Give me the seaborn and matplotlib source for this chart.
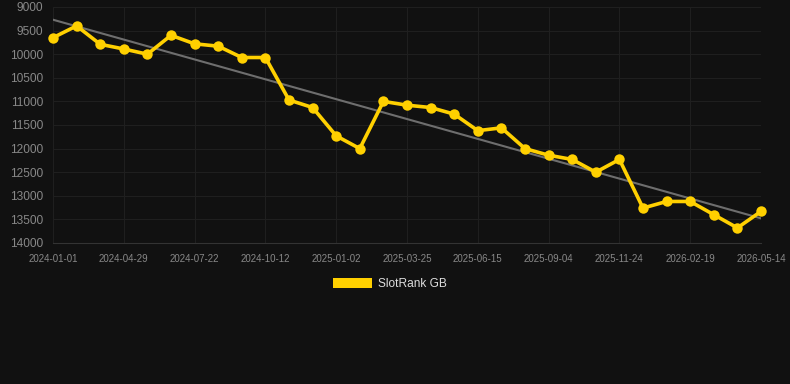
import numpy as np
import pandas as pd
import matplotlib
matplotlib.use("Agg")
import matplotlib.pyplot as plt
import seaborn as sns
from matplotlib.patches import Patch

# SlotRank GB rank values, one point per period (31 points)
ranks = [9650, 9400, 9790, 9890, 10000, 9600, 9780, 9830, 10070, 10070,
         10970, 11130, 11730, 12000, 11000, 11080, 11130, 11270, 11620, 11560,
         12000, 12140, 12230, 12500, 12230, 13260, 13120, 13120, 13400, 13680,
         13330]
tick_labels = ["2024-01-01", "2024-04-29", "2024-07-22", "2024-10-12", "2025-01-02",
               "2025-03-25", "2025-06-15", "2025-09-04", "2025-11-24", "2026-02-19",
               "2026-05-14"]
y_ticks = [9000, 9500, 10000, 10500, 11000, 11500, 12000, 12500, 13000, 13500, 14000]

df = pd.DataFrame({"idx": np.arange(len(ranks)), "rank": ranks})

bg = "#111111"
sns.set_style("dark")
plt.rcParams["font.family"] = ["Liberation Sans", "DejaVu Sans"]

fig = plt.figure(figsize=(7.9, 3.84), dpi=100, facecolor=bg)
ax = fig.add_axes([53 / 790, 1 - 243 / 384, (761 - 53) / 790, (243 - 7) / 384])
ax.set_facecolor(bg)

# trend line
sns.regplot(data=df, x="idx", y="rank", scatter=False, ci=None, ax=ax,
            line_kws={"color": "#6e6e6e", "linewidth": 1.5, "zorder": 2})

sns.lineplot(data=df, x="idx", y="rank", ax=ax, color="#FFD000", linewidth=2.6,
             marker="o", markersize=7.5, markeredgewidth=0, zorder=3, clip_on=False)

ax.set_xlim(0, len(ranks) - 1)
ax.set_ylim(14000, 9000)
ax.set_yticks(y_ticks)
ax.set_xticks(np.arange(0, len(ranks), 3))
ax.set_xticklabels(tick_labels)
ax.tick_params(axis="y", colors="#888888", labelsize=8.6, length=0, pad=7)
ax.tick_params(axis="x", colors="#888888", labelsize=7, length=4, width=0.8, pad=4)
ax.grid(True, color="#1f1f1f", linewidth=0.8)
for s in ["top", "right", "left"]:
    ax.spines[s].set_visible(False)
ax.spines["bottom"].set_color("#333333")
ax.set_xlabel("")
ax.set_ylabel("")

fig.legend(handles=[Patch(facecolor="#FFD000", edgecolor="none", label="SlotRank GB")],
           loc="center", bbox_to_anchor=(390 / 790, 1 - 284 / 384), frameon=False,
           fontsize=8.6, labelcolor="#dddddd", handlelength=3.3, handleheight=1.0,
           handletextpad=0.5)

fig.savefig("out.png", dpi=100, facecolor=bg)
